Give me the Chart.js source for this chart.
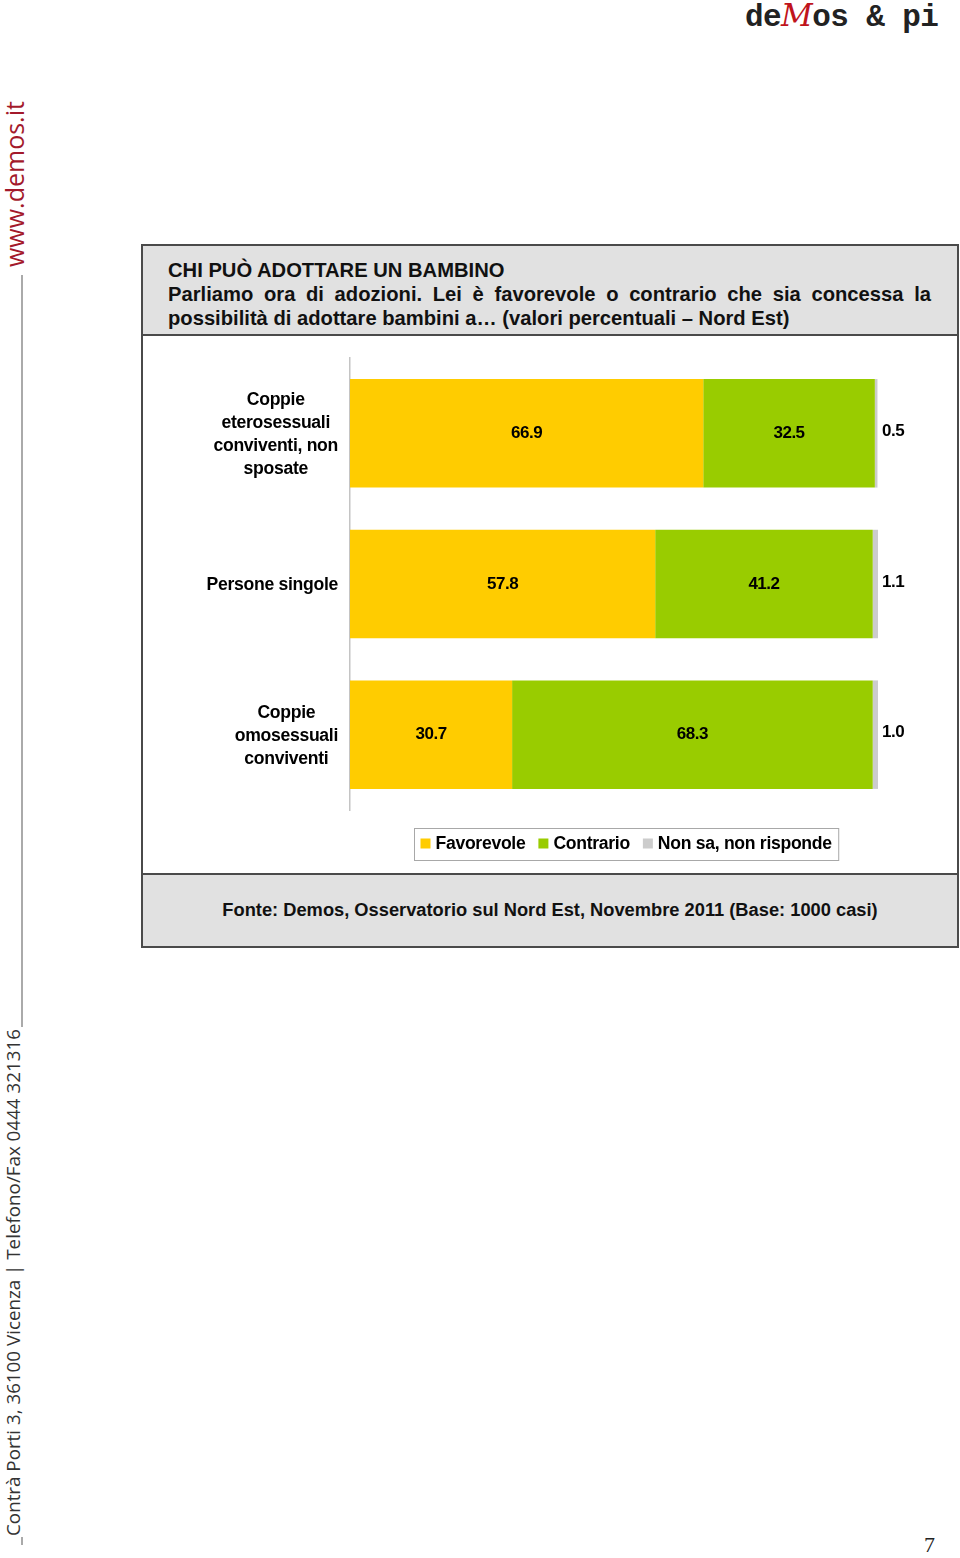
<!DOCTYPE html>
<html>
<head>
<meta charset="utf-8">
<script src="https://cdn.jsdelivr.net/npm/chart.js@4/dist/chart.umd.min.js"></script>
<style>
  body { margin: 0; width: 960px; height: 1558px; background: #fff; position: relative; overflow: hidden; font-family: "Liberation Sans", Arial, sans-serif; }
  .logo { position: absolute; left: 745px; top: -3px; font: bold 31px "Liberation Mono", monospace; letter-spacing: -0.6px; color: #222; white-space: pre; }
  .logo span { color: #c0141c; font-family: "DejaVu Serif", serif; font-style: italic; font-weight: normal; }
  .side { position: absolute; transform-origin: left top; transform: rotate(-90deg); white-space: nowrap; font-family: "Open Sans", sans-serif; }
  .frame { position: absolute; left: 141px; top: 244px; width: 818px; height: 704px; box-sizing: border-box; border: 2px solid #4a4a4a; }
  .head { height: 90px; box-sizing: border-box; background: #e1e1e1; border-bottom: 2px solid #4a4a4a; padding: 12px 26px 0 25px; font-weight: bold; font-size: 20.2px; line-height: 24px; color: #111; }
  .just { text-align: justify; text-align-last: justify; }
  .foot { position: absolute; left: 0; right: 0; bottom: 0; height: 71px; background: #e1e1e1; border-top: 2px solid #4a4a4a; text-align: center; font-weight: bold; font-size: 18.3px; line-height: 70px; color: #111; }
  #wrap { position: absolute; left: 142px; top: 336px; width: 815px; height: 538px; }
</style>
</head>
<body>
<div class="logo">de<span>M</span>os &amp; pi</div>
<div class="side" style="left:2px; top:267px; font-size:25px; line-height:24px; color:#a3192b;">www.demos.it</div>
<div style="position:absolute; left:21px; top:275px; width:2px; height:752px; background:#aaa;"></div>
<div class="side" style="left:2px; top:1536px; font-size:18.8px; line-height:22px; color:#333;">Contrà Porti 3, 36100 Vicenza | Telefono/Fax 0444 321316</div>
<div style="position:absolute; left:21px; top:1537px; width:2px; height:8px; background:#aaa;"></div>

<div class="frame">
  <div class="head">
    <div>CHI PUÒ ADOTTARE UN BAMBINO</div>
    <div class="just">Parliamo ora di adozioni. Lei è favorevole o contrario che sia concessa la</div>
    <div>possibilità di adottare bambini a… (valori percentuali – Nord Est)</div>
  </div>
  <div class="foot">Fonte: Demos, Osservatorio sul Nord Est, Novembre 2011 (Base: 1000 casi)</div>
</div>
<div id="wrap"><canvas id="chart" width="815" height="538"></canvas></div>
<div style="position:absolute; left:924px; top:1532px; font:22px 'Liberation Serif', serif; color:#222;">7</div>

<script>
const categories = [
  ["Coppie", "eterosessuali", "conviventi, non", "sposate"],
  ["Persone singole"],
  ["Coppie", "omosessuali", "conviventi"],
];
const seriesNames = ["Favorevole", "Contrario", "Non sa, non risponde"];
const favorevole = [66.9, 57.8, 30.7];
const contrario = [32.5, 41.2, 68.3];
const nonSa = [0.5, 1.1, 1.0];
const seriesColors = ["#ffcc00", "#99cc00", "#cccccc"];

const labelFont = 'bold 17.6px "Liberation Sans", Arial, sans-serif';
const valueFont = 'bold 17px "Liberation Sans", Arial, sans-serif';

// value labels, category labels and the boxed legend
const drawExtras = {
  id: "drawExtras",
  afterDatasetsDraw(chart) {
    const ctx = chart.ctx;
    const xs = chart.scales.x;
    ctx.save();
    ctx.font = valueFont;
    ctx.letterSpacing = "-0.5px";
    ctx.fillStyle = "#000";
    ctx.textBaseline = "middle";
    chart.data.datasets.forEach((ds, di) => {
      chart.getDatasetMeta(di).data.forEach((bar, i) => {
        const txt = ds.data[i].toFixed(1);
        if (di < 2) {
          ctx.textAlign = "center";
          ctx.fillText(txt, (bar.x + bar.base) / 2, bar.y);
        } else {
          ctx.textAlign = "left";
          ctx.fillText(txt, xs.getPixelForValue(100) + 4, bar.y - 2);
        }
      });
    });
    ctx.restore();
  },
  afterDraw(chart) {
    const ctx = chart.ctx;
    const area = chart.chartArea;
    const ys = chart.scales.y;
    ctx.save();
    ctx.font = labelFont;
    ctx.letterSpacing = "-0.3px";
    ctx.fillStyle = "#000";
    ctx.textBaseline = "middle";
    ctx.textAlign = "center";
    categories.forEach((lines, i) => {
      const y = ys.getPixelForValue(i);
      const w = Math.max(...lines.map((l) => ctx.measureText(l).width));
      const cx = area.left - 12 - w / 2;
      const lh = 23;
      lines.forEach((l, k) => {
        ctx.fillText(l, cx, y - ((lines.length - 1) * lh) / 2 + k * lh + 1);
      });
    });

    // legend
    const widths = seriesNames.map((n) => ctx.measureText(n).width);
    const total = widths.reduce((a, w) => a + 15 + w, 0) + 13 * (seriesNames.length - 1);
    const boxW = total + 13;
    const boxH = 32;
    const cx = (area.left + area.right) / 2 + 12;
    const bx = Math.round(cx - boxW / 2) + 0.5;
    const by = Math.round(area.bottom + 18) + 0.5;
    ctx.strokeStyle = "#a8a8a8";
    ctx.lineWidth = 1;
    ctx.strokeRect(bx, by, boxW, boxH);
    let x = bx + 6;
    ctx.textAlign = "left";
    seriesNames.forEach((n, i) => {
      ctx.fillStyle = seriesColors[i];
      ctx.fillRect(x, by + 10, 10, 10);
      ctx.fillStyle = "#000";
      ctx.fillText(n, x + 15, by + 16);
      x += 15 + widths[i] + 13;
    });
    ctx.restore();
  },
};

const seriesData = [favorevole, contrario, nonSa];

new Chart(document.getElementById("chart"), {
  type: "bar",
  data: {
    labels: categories,
    datasets: seriesNames.map((name, i) => ({
      label: name,
      data: seriesData[i],
      backgroundColor: seriesColors[i],
      borderWidth: 0,
      barPercentage: 0.72,
      categoryPercentage: 1,
    })),
  },
  options: {
    indexAxis: "y",
    responsive: false,
    animation: false,
    layout: { padding: { left: 208, right: 79, top: 22, bottom: 64 } },
    scales: {
      x: { stacked: true, min: 0, max: 100, display: false },
      y: {
        stacked: true,
        grid: { display: false },
        ticks: { display: false },
        border: { display: true, color: "#c4c4c4", width: 1.5 },
        afterFit: (s) => { s.width = 0; },
      },
    },
    plugins: { legend: { display: false }, tooltip: { enabled: false } },
  },
  plugins: [drawExtras],
});
</script>
</body>
</html>
